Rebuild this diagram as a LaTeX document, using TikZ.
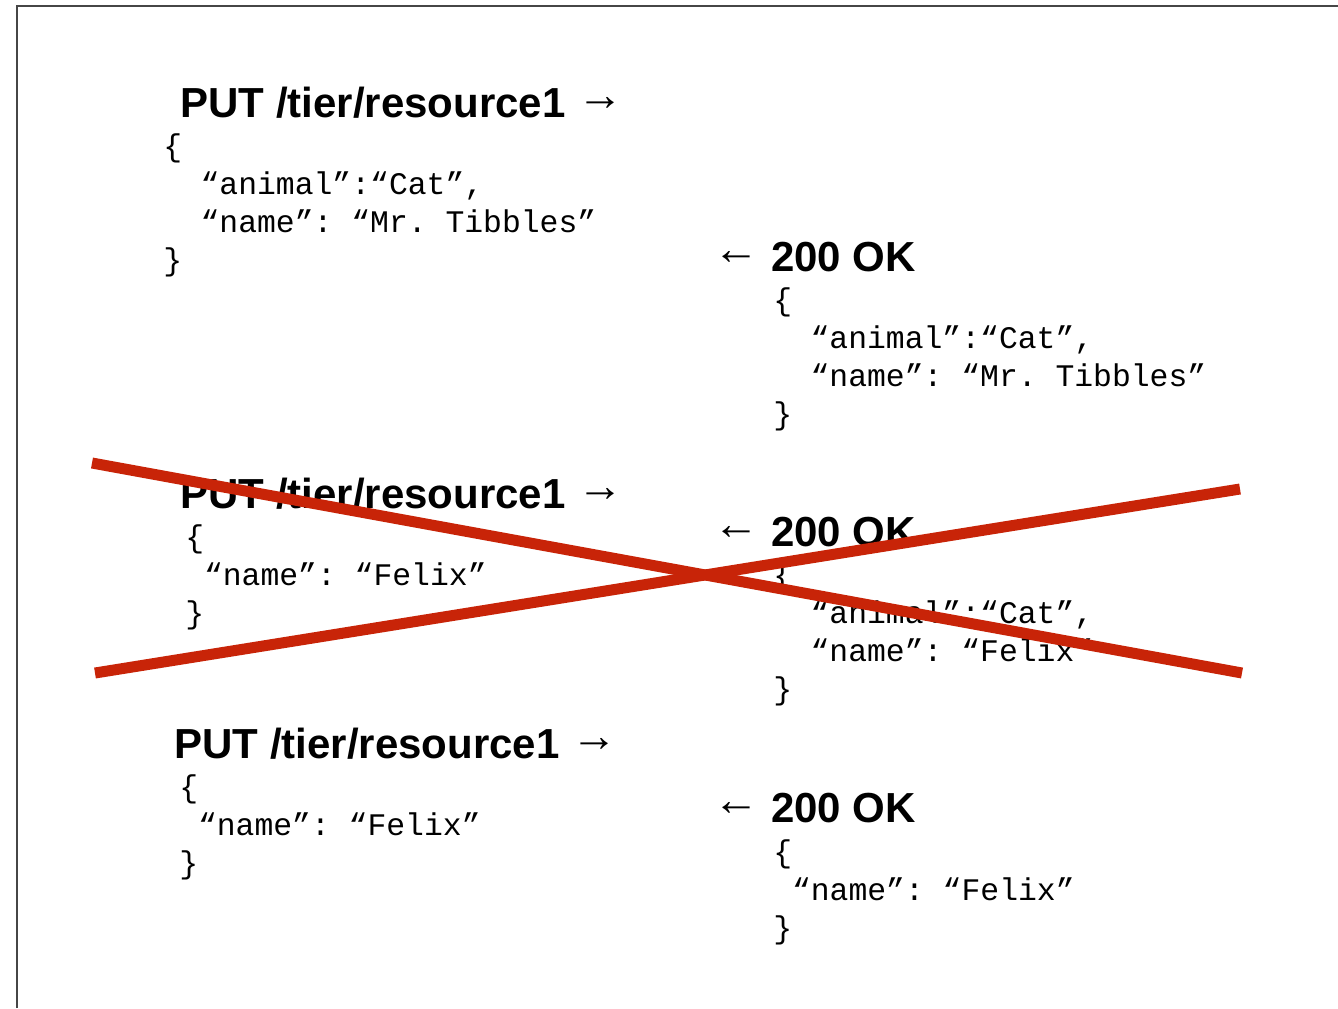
\documentclass[tikz,border=0pt]{standalone}
\usepackage{fontspec}
\setmainfont{Liberation Sans}
\setmonofont{Liberation Mono}
\definecolor{crossred}{RGB}{200,36,8}
\definecolor{framegray}{RGB}{70,70,70}
\newcommand{\toarrow}{\raisebox{3.2pt}{\mdseries\fontsize{23}{24}\selectfont →}}
\newcommand{\backarrow}{\raisebox{3.2pt}{\mdseries\fontsize{23}{24}\selectfont ←}}
\tikzset{
	verb/.style={anchor=base west, inner sep=0pt, font=\bfseries\fontsize{21}{24}\selectfont},
	json/.style={anchor=base west, inner sep=0pt, font=\ttfamily\fontsize{15.7}{19}\selectfont},
	cross/.style={crossred, line width=5.5pt},
}
\begin{document}
\begin{tikzpicture}[x=0.5pt,y=-0.5pt]
	\useasboundingbox (0,0) rectangle (1338,1008);
	\draw[framegray, line width=1pt] (16.5,1008) -- (16.5,5.5) -- (1338,5.5);
	% first request and its answer
	\node[verb] (put1) at (180,117) {PUT /tier/resource1 \toarrow};
	\node[json] (put1a) at (163,156) {\{};
	\node[json] (put1b) at (200.2,194) {“animal”:“Cat”,};
	\node[json] (put1c) at (200.2,232) {“name”: “Mr. Tibbles”};
	\node[json] (put1d) at (163,270) {\}};
	\node[verb] (ok1) at (713,271) {\backarrow\ 200 OK};
	\node[json] (ok1a) at (773,310) {\{};
	\node[json] (ok1b) at (810.2,348) {“animal”:“Cat”,};
	\node[json] (ok1c) at (810.2,386) {“name”: “Mr. Tibbles”};
	\node[json] (ok1d) at (773,424) {\}};
	% second request and its answer
	\node[verb] (put2) at (180,508) {PUT /tier/resource1 \toarrow};
	\node[json] (put2a) at (185,547) {\{};
	\node[json] (put2b) at (203.6,585) {“name”: “Felix”};
	\node[json] (put2c) at (185,623) {\}};
	\node[verb] (ok2) at (713,546) {\backarrow\ 200 OK};
	\node[json] (ok2a) at (773,585) {\{};
	\node[json] (ok2b) at (810.2,623) {“animal”:“Cat”,};
	\node[json] (ok2c) at (810.2,661) {“name”: “Felix”};
	\node[json] (ok2d) at (773,699) {\}};
	% third request and its answer
	\node[verb] (put3) at (174,758) {PUT /tier/resource1 \toarrow};
	\node[json] (put3a) at (179,797) {\{};
	\node[json] (put3b) at (197.6,835) {“name”: “Felix”};
	\node[json] (put3c) at (179,873) {\}};
	\node[verb] (ok3) at (713,822) {\backarrow\ 200 OK};
	\node[json] (ok3a) at (773,862) {\{};
	\node[json] (ok3b) at (791.6,900) {“name”: “Felix”};
	\node[json] (ok3c) at (773,938) {\}};
	% the cross over the second pair
	\coordinate (xa) at (92,463);
	\coordinate (xb) at (1242,673);
	\coordinate (xc) at (95,673);
	\coordinate (xd) at (1240,489);
	\draw[cross] (xa) -- (xb);
	\draw[cross] (xc) -- (xd);
\end{tikzpicture}
\end{document}
